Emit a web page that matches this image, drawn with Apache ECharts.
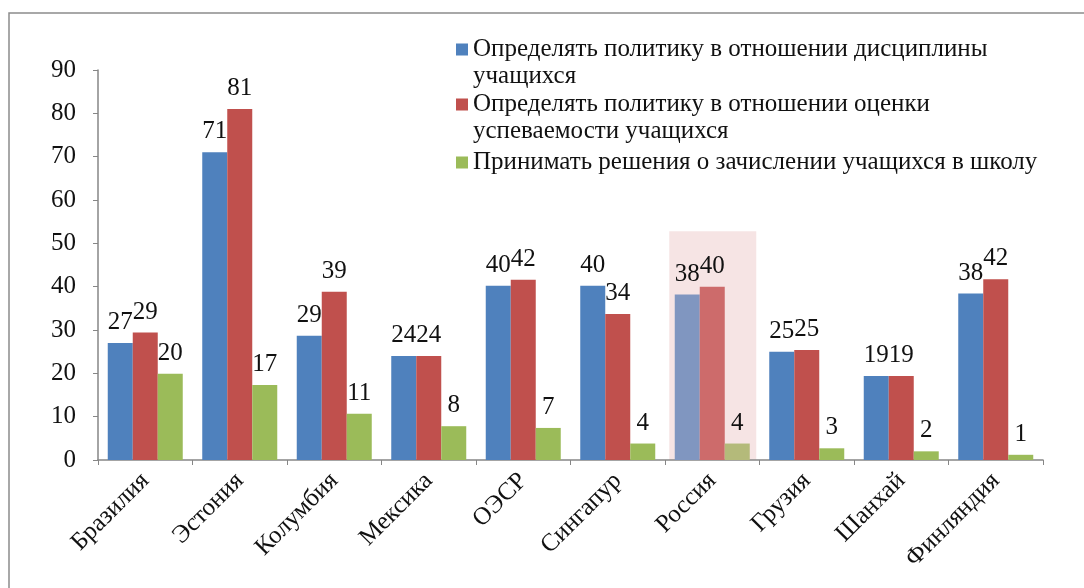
<!DOCTYPE html>
<html>
<head>
<meta charset="utf-8">
<script src="https://cdn.jsdelivr.net/npm/echarts@6/dist/echarts.min.js"></script>
<style>
  html, body { margin: 0; padding: 0; background: #fff; }
  #chart { width: 1084px; height: 588px; }
</style>
</head>
<body>
<div id="chart"></div>
<script>
const categories = ["Бразилия", "Эстония", "Колумбия", "Мексика", "ОЭСР", "Сингапур", "Россия", "Грузия", "Шанхай", "Финляндия"];
const seriesNames = [
  "Определять политику в отношении дисциплины\nучащихся",
  "Определять политику в отношении оценки\nуспеваемости учащихся",
  "Принимать решения о зачислении учащихся в школу",
];
const disciplineValues = [27.0, 71.0, 28.7, 24.0, 40.2, 40.2, 38.2, 25.0, 19.4, 38.4];
const assessmentValues = [29.4, 81.0, 38.8, 24.0, 41.6, 33.7, 40.0, 25.4, 19.4, 41.7];
const admissionValues = [19.9, 17.3, 10.7, 7.8, 7.4, 3.8, 3.8, 2.7, 2.0, 1.2];
const yTicks = [0, 10, 20, 30, 40, 50, 60, 70, 80, 90];

const highlightCategory = "Россия";
const baseColors = ["#4f81bd", "#c0504d", "#9bbb59"];
const fadedColors = ["#8096c0", "#cd6b6b", "#b4ba7a"];
const FONT = "'Liberation Serif', 'Times New Roman', serif";
const FONT_SIZE = 25;

const chart = echarts.init(document.getElementById("chart"));

function buildData(values, seriesIndex) {
  return values.map((value, i) => {
    if (categories[i] !== highlightCategory) {
      return value;
    }
    return { value, itemStyle: { color: fadedColors[seriesIndex] } };
  });
}

function buildSeries(name, values, seriesIndex) {
  return {
    name,
    type: "bar",
    data: buildData(values, seriesIndex),
    barWidth: 25,
    barGap: "0%",
    z: 3,
    itemStyle: { color: baseColors[seriesIndex] },
    label: {
      show: true,
      position: "top",
      distance: 8,
      color: "#111",
      fontFamily: FONT,
      fontSize: FONT_SIZE,
      formatter: ({ value }) => String(Math.round(value)),
    },
  };
}

// first square sits on the first text line, not the middle of the block
const twoLineIcon = "path://M0,7.5h12v12h-12z M0,0h0.01v0.01h-0.01z M0,53.99h0.01v0.01h-0.01z";
const legendText = { fontFamily: FONT, fontSize: FONT_SIZE, lineHeight: 27, color: "#111" };

chart.setOption({
  backgroundColor: "#fff",
  animation: false,
  grid: { left: 98, right: 41, top: 70, bottom: 128 },
  legend: [
    {
      data: [seriesNames[0], seriesNames[1]],
      orient: "vertical",
      left: 456,
      top: 36,
      padding: 0,
      itemWidth: 12,
      itemHeight: 54,
      itemGap: 1,
      icon: twoLineIcon,
      selectedMode: false,
      textStyle: legendText,
    },
    {
      data: [seriesNames[2]],
      orient: "vertical",
      left: 456,
      top: 149,
      padding: 0,
      itemWidth: 12,
      itemHeight: 12,
      icon: "rect",
      selectedMode: false,
      textStyle: legendText,
    },
  ],
  xAxis: {
    type: "category",
    data: categories,
    axisLine: { lineStyle: { color: "#868686", width: 1.5 } },
    axisTick: { show: true, length: 5, lineStyle: { color: "#868686" } },
    axisLabel: {
      interval: 0,
      rotate: 45,
      margin: 17,
      color: "#111",
      fontFamily: FONT,
      fontSize: FONT_SIZE,
    },
  },
  yAxis: {
    type: "value",
    min: yTicks[0],
    max: yTicks[yTicks.length - 1],
    interval: 10,
    axisLine: { show: true, lineStyle: { color: "#868686", width: 1.5 } },
    axisTick: { show: true, length: 5, lineStyle: { color: "#868686" } },
    splitLine: { show: false },
    axisLabel: {
      margin: 22,
      color: "#111",
      fontFamily: FONT,
      fontSize: FONT_SIZE,
    },
  },
  series: [
    buildSeries(seriesNames[0], disciplineValues, 0),
    buildSeries(seriesNames[1], assessmentValues, 1),
    buildSeries(seriesNames[2], admissionValues, 2),
  ],
});

// frame and highlight band for the highlighted category
const hiIndex = categories.indexOf(highlightCategory);
const center = chart.convertToPixel({ xAxisIndex: 0 }, hiIndex);
const bandTop = chart.convertToPixel({ yAxisIndex: 0 }, 52.8);
const bandBottom = chart.convertToPixel({ yAxisIndex: 0 }, 0);

chart.setOption({
  graphic: [
    {
      type: "rect",
      shape: { x: 9, y: 13, width: 1100, height: 600 },
      style: { fill: null, stroke: "#8c8c8c", lineWidth: 1.5 },
      silent: true,
      z: 1,
    },
    {
      type: "rect",
      shape: { x: center - 43, y: bandTop, width: 87, height: bandBottom - bandTop },
      style: { fill: "#f6e4e4" },
      silent: true,
      z: 0,
    },
  ],
});

window.addEventListener("resize", () => chart.resize());
</script>
</body>
</html>
